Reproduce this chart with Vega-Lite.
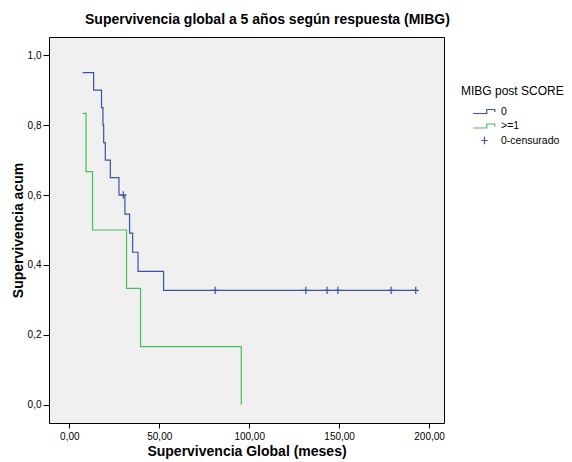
{
  "$schema": "https://vega.github.io/schema/vega-lite/v6.json",
  "width": 395,
  "height": 386,
  "autosize": {"type": "none"},
  "padding": {"left": 49, "top": 37, "right": 128, "bottom": 39},
  "background": "white",
  "config": {
    "font": "Liberation Sans",
    "view": {"fill": "#f0f0f0", "stroke": "#000000", "strokeWidth": 1}
  },
  "title": {
    "text": "Supervivencia global a 5 años según respuesta (MIBG)",
    "fontSize": 14,
    "fontWeight": "bold",
    "color": "#000000",
    "anchor": "start",
    "frame": "group",
    "dx": 36,
    "offset": 10
  },
  "datasets": {
    "curvas": [
      {"t": 7.4, "s": 0.95, "grupo": "0"},
      {"t": 13.5, "s": 0.9, "grupo": "0"},
      {"t": 17.9, "s": 0.85, "grupo": "0"},
      {"t": 18.7, "s": 0.8, "grupo": "0"},
      {"t": 19.1, "s": 0.75, "grupo": "0"},
      {"t": 20.0, "s": 0.7, "grupo": "0"},
      {"t": 22.8, "s": 0.65, "grupo": "0"},
      {"t": 27.6, "s": 0.6, "grupo": "0"},
      {"t": 30.9, "s": 0.5455, "grupo": "0"},
      {"t": 33.5, "s": 0.4909, "grupo": "0"},
      {"t": 35.2, "s": 0.4364, "grupo": "0"},
      {"t": 38.2, "s": 0.3818, "grupo": "0"},
      {"t": 52.4, "s": 0.3273, "grupo": "0"},
      {"t": 192.6, "s": 0.3273, "grupo": "0"},
      {"t": 7.4, "s": 0.8333, "grupo": ">=1"},
      {"t": 9.3, "s": 0.6667, "grupo": ">=1"},
      {"t": 12.9, "s": 0.5, "grupo": ">=1"},
      {"t": 31.8, "s": 0.3333, "grupo": ">=1"},
      {"t": 39.6, "s": 0.1667, "grupo": ">=1"},
      {"t": 95.6, "s": 0.0, "grupo": ">=1"}
    ],
    "censuras": [
      {"t": 30.0, "s": 0.6, "grupo": "0-censurado"},
      {"t": 81.1, "s": 0.3273, "grupo": "0-censurado"},
      {"t": 131.5, "s": 0.3273, "grupo": "0-censurado"},
      {"t": 143.3, "s": 0.3273, "grupo": "0-censurado"},
      {"t": 149.3, "s": 0.3273, "grupo": "0-censurado"},
      {"t": 178.9, "s": 0.3273, "grupo": "0-censurado"},
      {"t": 192.6, "s": 0.3273, "grupo": "0-censurado"}
    ]
  },
  "encoding": {
    "x": {
      "field": "t",
      "type": "quantitative",
      "scale": {"domain": [-11.3, 208.3], "nice": false, "zero": false},
      "axis": {
        "values": [0, 50, 100, 150, 200],
        "labelExpr": "replace(format(datum.value, '.2f'), '.', ',')",
        "grid": false,
        "domain": false,
        "tickColor": "#000000",
        "tickSize": 5,
        "labelFontSize": 10,
        "labelColor": "#000000",
        "labelPadding": 3,
        "title": "Supervivencia Global (meses)",
        "titleFontSize": 14,
        "titleFontWeight": "bold",
        "titleColor": "#000000",
        "titlePadding": 3
      }
    },
    "y": {
      "field": "s",
      "type": "quantitative",
      "scale": {"domain": [-0.052, 1.052], "nice": false, "zero": false},
      "axis": {
        "values": [0, 0.2, 0.4, 0.6, 0.8, 1.0],
        "labelExpr": "replace(format(datum.value, '.1f'), '.', ',')",
        "grid": false,
        "domain": false,
        "tickColor": "#000000",
        "tickSize": 6,
        "labelFontSize": 10,
        "labelColor": "#000000",
        "labelPadding": 2,
        "title": "Supervivencia acum",
        "titleFontSize": 14,
        "titleFontWeight": "bold",
        "titleColor": "#000000",
        "titlePadding": 2
      }
    },
    "color": {
      "field": "grupo",
      "type": "nominal",
      "scale": {
        "domain": ["0", ">=1", "0-censurado"],
        "range": ["#3b52a8", "#45c056", "#3b52a8"]
      },
      "legend": {
        "title": "MIBG post SCORE",
        "orient": "none",
        "legendX": 412,
        "legendY": 49,
        "titleFontSize": 12,
        "titleFontWeight": "normal",
        "titleColor": "#000000",
        "labelFontSize": 10.5,
        "labelColor": "#000000",
        "symbolOffset": 17,
        "symbolSize": 130,
        "symbolStrokeWidth": 1.2,
        "symbolFillColor": "transparent",
        "labelOffset": 10,
        "rowPadding": 2.5,
        "titlePadding": 7
      }
    }
  },
  "layer": [
    {
      "data": {"name": "curvas"},
      "mark": {"type": "line", "interpolate": "step-after", "strokeWidth": 1.2}
    },
    {
      "data": {"name": "censuras"},
      "mark": {"type": "point", "filled": false, "size": 130, "strokeWidth": 1.2, "opacity": 1},
      "encoding": {
        "shape": {
          "field": "grupo",
          "type": "nominal",
          "scale": {
            "domain": ["0", ">=1", "0-censurado"],
            "range": ["M-2,0.35H0.4V-0.35H1.8V0.1", "M-2,0.35H0.4V-0.35H1.8V0.1", "M-0.55,0H0.55M0,-0.65V0.65"]
          },
          "legend": {
            "title": "MIBG post SCORE",
            "orient": "none",
            "legendX": 412,
            "legendY": 49
          }
        }
      }
    }
  ]
}
